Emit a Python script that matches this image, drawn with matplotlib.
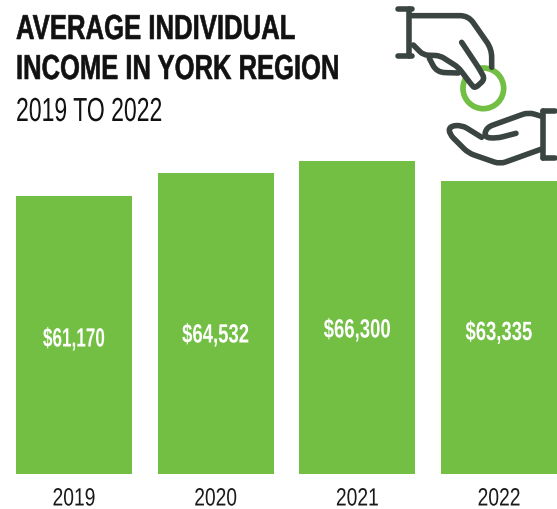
import matplotlib
matplotlib.use('Agg')
import matplotlib.pyplot as plt
import numpy as np
from matplotlib.patches import Circle, PathPatch, Polygon
from matplotlib.path import Path
from matplotlib.patheffects import AbstractPathEffect
from matplotlib.textpath import TextPath
from matplotlib.font_manager import FontProperties
from matplotlib.transforms import Affine2D

years = ['2019', '2020', '2021', '2022']
income = [61170, 64532, 66300, 63335]
labels = ['$61,170', '$64,532', '$66,300', '$63,335']
label_y = [337, 333, 328, 330.5]   # pixel rows of the value labels
label_w = [61, 66, 66, 66]         # the ones are narrow in the original face

green = '#72bf44'
dark = '#3a4441'
font = 'Liberation Sans'


class Squeeze(AbstractPathEffect):
    # no condensed face installed, so narrow the glyphs of the real text
    def __init__(self, sx, center=False, heavy=0):
        super().__init__()
        self.sx = sx
        self.center = center
        self.heavy = heavy

    def draw_path(self, renderer, gc, tpath, affine, rgbFace=None):
        c = 0
        if self.center:
            e = tpath.get_extents()
            c = (e.x0 + e.x1) / 2
        t = Affine2D().translate(-c, 0).scale(self.sx, 1).translate(c, 0)
        if self.heavy:
            gc.set_linewidth(self.heavy)
            gc.set_foreground(rgbFace)
        renderer.draw_path(gc, tpath, t + affine, rgbFace)


def fit(s, size, weight, width):
    # squeeze factor to make s about width pixels wide at dpi 100
    fp = FontProperties(family=font, weight=weight)
    e = TextPath((0, 0), s, size=size*100/72, prop=fp).get_extents()
    return width / e.width


fig = plt.figure(figsize=(5.57, 5.10), dpi=100)

# bars, the value axis does not start at zero in the original
ax = fig.add_axes([0, 35/510, 1, 474/510])
ax.bar(range(4), income, width=0.819, color=green)
ax.set_xlim(-0.522, 3.409)
ax.set_ylim(20420, 89920)
for i in range(4):
    y = 89920 - label_y[i] * (89920-20420) / 474
    t = ax.text(i, y, labels[i], color='white', ha='center', va='center_baseline',
                fontsize=19, fontweight='bold', family=font)
    t.set_path_effects([Squeeze(fit(labels[i], 19, 'bold', label_w[i]), center=True)])
ax.set_xticks(range(4))
ax.set_xticklabels(years, fontsize=18, family=font, color='#1a1a1a')
for lab in ax.get_xticklabels():
    lab.set_path_effects([Squeeze(fit(lab.get_text(), 18, 'normal', 41), center=True)])
ax.tick_params(length=0, pad=9)
ax.set_yticks([])
for s in ax.spines.values():
    s.set_visible(False)
ax.patch.set_alpha(0)

# title block
title_lines = [('AVERAGE INDIVIDUAL', 40, 25, 'bold', 278, 0.4),
               ('INCOME IN YORK REGION', 80, 25, 'bold', 320, 0.4),
               ('2019 TO 2022', 122, 24, 'normal', 144, 0)]
for s, base, size, weight, w, heavy in title_lines:
    t = fig.text(16/557, 1-base/510, s, fontsize=size, fontweight=weight, family=font, color='#111111')
    t.set_path_effects([Squeeze(fit(s, size, weight, w), heavy=heavy)])

# hand icon, drawn in the pixels of a 3x crop of the icon area
ic = fig.add_axes([390/557, 1-180/510, 167/557, 180/510])
ic.set_xlim(0, 501)
ic.set_ylim(540, 0)
ic.axis('off')
ic.patch.set_alpha(0)

ic.add_patch(Circle((280, 268), 61, fill=False, ec=green, lw=4.1))
ic.add_patch(Polygon([(205, 205), (245, 258), (255, 265), (280, 240), (265, 205), (215, 130)],
                     fc='white', ec='none'))


def line(pts, r=0):
    # polyline with its inner corners rounded by r
    pts = np.array(pts, float)
    verts = [pts[0]]
    codes = [Path.MOVETO]
    for a, b, c in zip(pts[:-2], pts[1:-1], pts[2:]):
        d1 = min(r, np.linalg.norm(a-b)/2)
        d2 = min(r, np.linalg.norm(c-b)/2)
        verts += [b + (a-b)/np.linalg.norm(a-b)*d1, b, b + (c-b)/np.linalg.norm(c-b)*d2]
        codes += [Path.LINETO, Path.CURVE3, Path.CURVE3]
    verts.append(pts[-1])
    codes.append(Path.LINETO)
    ic.add_patch(PathPatch(Path(verts, codes), fill=False, ec=dark, lw=4.0,
                           capstyle='round', joinstyle='round'))


# upper hand
line([(58, 30), (58, 170)])
line([(25, 30), (65, 30)])
line([(25, 170), (65, 170)])
line([(65, 50), (235, 50), (305, 150), (305, 205)], 25)
line([(70, 138), (100, 168), (150, 170), (205, 205), (245, 258), (255, 268), (285, 240),
      (265, 205), (215, 130)], 14)
line([(118, 178), (140, 220), (205, 222)], 25)
# lower hand
line([(460, 335), (460, 478)])
line([(460, 335), (495, 335)])
line([(460, 478), (495, 478)])
line([(455, 352), (415, 340), (290, 385), (282, 415), (320, 418), (378, 403)], 18)
line([(275, 415), (215, 378), (178, 382), (178, 405), (235, 462), (330, 495), (455, 450)], 18)

fig.savefig('out.png', dpi=100)
